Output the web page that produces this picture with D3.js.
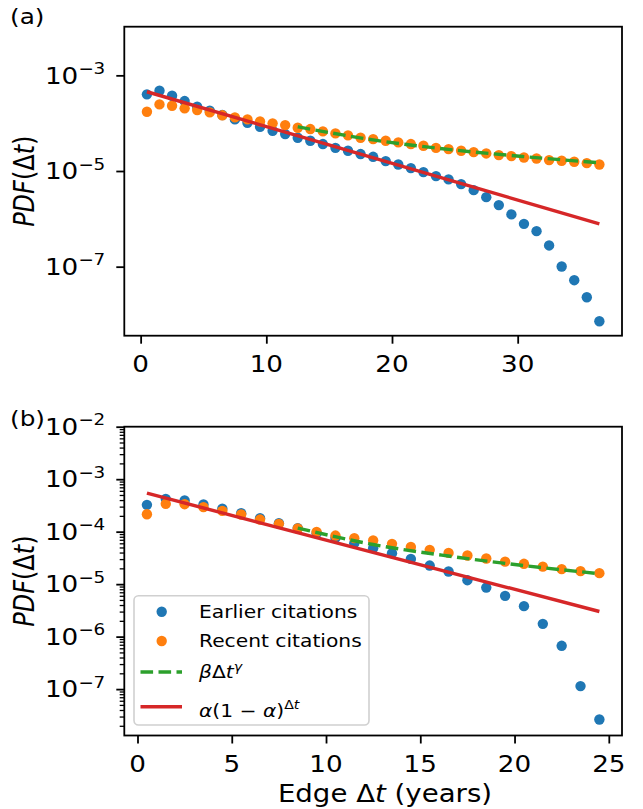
<!DOCTYPE html>
<html>
<head>
<meta charset="utf-8">
<script src="https://cdn.jsdelivr.net/npm/d3@7"></script>
<style>
  html, body { margin: 0; padding: 0; background: #fff; }
  svg { display: block; font-family: "DejaVu Sans", sans-serif; }
</style>
</head>
<body>
<svg id="chart" width="643" height="809"></svg>
<script>
// ---------------- DATA ----------------
// Panel (a)
const xA = [0.5,1.5,2.5,3.5,4.5,5.5,6.5,7.5,8.5,9.5,10.5,11.5,12.5,13.5,14.5,15.5,16.5,17.5,18.5,19.5,20.5,21.5,22.5,23.5,24.5,25.5,26.5,27.5,28.5,29.5,30.5,31.5,32.5,33.5,34.5,35.5,36.5];
const earlierA = [4.01e-4,4.76e-4,3.75e-4,2.90e-4,2.21e-4,1.82e-4,1.48e-4,1.20e-4,1.02e-4,8.41e-5,6.93e-5,5.92e-5,4.95e-5,4.29e-5,3.66e-5,3.05e-5,2.65e-5,2.26e-5,1.98e-5,1.61e-5,1.37e-5,1.15e-5,9.48e-6,7.82e-6,6.67e-6,5.32e-6,3.98e-6,2.84e-6,1.94e-6,1.24e-6,7.85e-7,5.53e-7,2.78e-7,1.01e-7,5.22e-8,2.30e-8,7.24e-9];
const recentA = [1.73e-4,2.47e-4,2.31e-4,2.04e-4,1.88e-4,1.68e-4,1.46e-4,1.32e-4,1.20e-4,1.09e-4,9.91e-5,9.12e-5,8.02e-5,7.53e-5,6.73e-5,6.12e-5,5.56e-5,4.95e-5,4.65e-5,4.29e-5,3.96e-5,3.66e-5,3.37e-5,3.05e-5,2.87e-5,2.65e-5,2.48e-5,2.33e-5,2.15e-5,2.05e-5,1.92e-5,1.83e-5,1.69e-5,1.64e-5,1.56e-5,1.46e-5,1.37e-5];
const powerFitXA = [12.5,18.5,24.5,30.5,36.5];
const powerFitYA = [8.41e-5,4.47e-5,2.83e-5,2.00e-5,1.49e-5];
const expFitXA = [0.5,36.5];
const expFitYA = [4.54e-4,7.85e-7];
const xTicksA = [0,10,20,30];
const yTickExpA = [-3,-5,-7];

// Panel (b)
const xB = [0.5,1.5,2.5,3.5,4.5,5.5,6.5,7.5,8.5,9.5,10.5,11.5,12.5,13.5,14.5,15.5,16.5,17.5,18.5,19.5,20.5,21.5,22.5,23.5,24.5];
const earlierB = [3.24e-4,4.22e-4,3.92e-4,3.29e-4,2.75e-4,2.25e-4,1.81e-4,1.45e-4,1.17e-4,9.33e-5,7.59e-5,6.04e-5,4.85e-5,3.89e-5,3.03e-5,2.26e-5,1.74e-5,1.19e-5,8.61e-6,5.98e-6,3.81e-6,1.75e-6,6.68e-7,1.14e-7,2.64e-8];
const recentB = [2.15e-4,3.39e-4,3.34e-4,2.93e-4,2.49e-4,2.12e-4,1.70e-4,1.41e-4,1.15e-4,9.91e-5,8.43e-5,7.52e-5,6.78e-5,5.86e-5,5.13e-5,4.50e-5,3.94e-5,3.51e-5,3.08e-5,2.69e-5,2.44e-5,2.16e-5,1.93e-5,1.77e-5,1.62e-5];
const powerFitXB = [8.5,12.5,16.5,20.5,24.5];
const powerFitYB = [1.17e-4,5.69e-5,3.43e-5,2.26e-5,1.58e-5];
const expFitXB = [0.5,24.5];
const expFitYB = [5.41e-4,3.01e-6];
const xTicksB = [0,5,10,15,20,25];
const yTickExpB = [-2,-3,-4,-5,-6,-7];

const legendLabels = ["Earlier citations", "Recent citations"];

// ---------------- STYLE ----------------
const C_BLUE = "#1f77b4", C_ORANGE = "#ff7f0e", C_GREEN = "#2ca02c", C_RED = "#d62728";
const SX = 1.15;           // horizontal text stretch of the reference
const TICK_FS = 22.8, LABEL_FS = 24, LEG_FS = 17.6, PANEL_FS = 21.5;

const svg = d3.select("#chart");

// text helper: parts = [{t, it, sup}]
function stext(parent, x, y, parts, opts) {
  opts = opts || {};
  const tr = `translate(${x},${y}) scale(${SX},1)` + (opts.rotate ? ` rotate(${opts.rotate})` : "");
  const g = parent.append("g").attr("transform", tr);
  const t = g.append("text")
    .attr("text-anchor", opts.anchor || "start")
    .style("font-size", opts.size + "px")
    .attr("fill", "#000");
  let cur = 0;
  const supShift = opts.supShift || -0.38 * opts.size;
  parts.forEach(p => {
    const target = p.sup ? supShift : 0;
    const ts = t.append("tspan").text(p.t).attr("dy", target - cur);
    cur = target;
    if (p.it) ts.style("font-style", "italic");
    if (p.sup) ts.style("font-size", (opts.size * 0.7) + "px");
  });
  return t;
}

function panel(cfg) {
  const { left, right, top, bottom } = cfg.box;
  const x = d3.scaleLinear().domain(cfg.xDomain).range([left, right]);
  const y = d3.scaleLog().domain(cfg.yDomain).range([bottom, top]);
  const g = svg.append("g");

  const clipId = "clip-" + cfg.id;
  svg.append("clipPath").attr("id", clipId).append("rect")
    .attr("x", left).attr("y", top).attr("width", right - left).attr("height", bottom - top);
  const plot = g.append("g").attr("clip-path", `url(#${clipId})`);

  plot.append("g").selectAll("circle").data(cfg.xs.map((v, i) => [v, cfg.earlier[i]]))
    .join("circle").attr("cx", d => x(d[0])).attr("cy", d => y(d[1])).attr("r", 5.2).attr("fill", C_BLUE);
  plot.append("g").selectAll("circle").data(cfg.xs.map((v, i) => [v, cfg.recent[i]]))
    .join("circle").attr("cx", d => x(d[0])).attr("cy", d => y(d[1])).attr("r", 5.2).attr("fill", C_ORANGE);

  plot.append("path")
    .datum(cfg.powX.map((v, i) => [v, cfg.powY[i]]))
    .attr("d", d3.line().x(d => x(d[0])).y(d => y(d[1])).curve(d3.curveMonotoneX))
    .attr("fill", "none").attr("stroke", C_GREEN).attr("stroke-width", 3.4)
    .attr("stroke-dasharray", "12.6,5.4");
  plot.append("path")
    .datum(cfg.expX.map((v, i) => [v, cfg.expY[i]]))
    .attr("d", d3.line().x(d => x(d[0])).y(d => y(d[1])))
    .attr("fill", "none").attr("stroke", C_RED).attr("stroke-width", 3.4);

  const xAxis = d3.axisBottom(x).tickValues(cfg.xTicks).tickFormat("").tickSize(8).tickSizeOuter(0);
  const gx = g.append("g").attr("transform", `translate(0,${bottom})`).call(xAxis);
  gx.select(".domain").remove();
  gx.selectAll("line").attr("stroke", "#000").attr("stroke-width", 1.8);

  const yMajors = cfg.yExp.map(e => Math.pow(10, e));
  if (cfg.minor) {
    const mins = [];
    const lo = Math.floor(Math.log10(cfg.yDomain[0])), hi = Math.ceil(Math.log10(cfg.yDomain[1]));
    for (let e = lo; e < hi; e++) for (let m = 2; m <= 9; m++) {
      const v = m * Math.pow(10, e);
      if (v >= cfg.yDomain[0] && v <= cfg.yDomain[1]) mins.push(v);
    }
    const gm = g.append("g").attr("transform", `translate(${left},0)`)
      .call(d3.axisLeft(y).tickValues(mins).tickFormat("").tickSize(4.6).tickSizeOuter(0));
    gm.select(".domain").remove();
    gm.selectAll("line").attr("stroke", "#000").attr("stroke-width", 1.3);
  }
  const gy = g.append("g").attr("transform", `translate(${left},0)`)
    .call(d3.axisLeft(y).tickValues(yMajors).tickFormat("").tickSize(8).tickSizeOuter(0));
  gy.select(".domain").remove();
  gy.selectAll("line").attr("stroke", "#000").attr("stroke-width", 1.8);

  g.append("rect").attr("x", left).attr("y", top).attr("width", right - left).attr("height", bottom - top)
    .attr("fill", "none").attr("stroke", "#000").attr("stroke-width", 1.8);

  cfg.xTicks.forEach(v => stext(g, x(v), bottom + 36.5, [{ t: String(v) }], { anchor: "middle", size: TICK_FS }));
  cfg.yExp.forEach(e => stext(g, left - 19, y(Math.pow(10, e)) + 8.2,
    [{ t: "10" }, { t: "\u2212" + Math.abs(e), sup: true }], { anchor: "end", size: TICK_FS, supShift: -9.5 }));

  stext(g, 33.5, (top + bottom) / 2,
    [{ t: "PDF", it: true }, { t: "(\u0394" }, { t: "t", it: true }, { t: ")" }],
    { anchor: "middle", size: LABEL_FS, rotate: -90 });

  stext(g, 10, cfg.panelY, [{ t: cfg.panelLabel }], { size: PANEL_FS });

  return { x, y, g };
}

panel({
  id: "a", box: { left: 124.3, right: 622, top: 26.7, bottom: 335.7 },
  xDomain: [-1.3, 38.3], yDomain: [Math.pow(10, -8.443), Math.pow(10, -1.983)],
  xs: xA, earlier: earlierA, recent: recentA,
  powX: powerFitXA, powY: powerFitYA, expX: expFitXA, expY: expFitYA,
  xTicks: xTicksA, yExp: yTickExpA, minor: false,
  panelLabel: "(a)", panelY: 24
});

panel({
  id: "b", box: { left: 124.3, right: 622, top: 426.7, bottom: 735.5 },
  xDomain: [-0.7, 25.7], yDomain: [Math.pow(10, -7.884), 1e-2],
  xs: xB, earlier: earlierB, recent: recentB,
  powX: powerFitXB, powY: powerFitYB, expX: expFitXB, expY: expFitYB,
  xTicks: xTicksB, yExp: yTickExpB, minor: true,
  panelLabel: "(b)", panelY: 425.5
});

stext(svg, 385, 802, [{ t: "Edge \u0394" }, { t: "t", it: true }, { t: " (years)" }], { anchor: "middle", size: LABEL_FS });

const lg = svg.append("g");
lg.append("rect").attr("x", 134).attr("y", 595.7).attr("width", 235).attr("height", 129.3)
  .attr("rx", 4.5).attr("fill", "#fff").attr("fill-opacity", 0.8)
  .attr("stroke", "#d0d0d0").attr("stroke-width", 1.6);
lg.append("circle").attr("cx", 161.7).attr("cy", 611.7).attr("r", 5.2).attr("fill", C_BLUE);
lg.append("circle").attr("cx", 161.7).attr("cy", 641).attr("r", 5.2).attr("fill", C_ORANGE);
lg.append("line").attr("x1", 140.5).attr("x2", 182).attr("y1", 672).attr("y2", 672)
  .attr("stroke", C_GREEN).attr("stroke-width", 3.4).attr("stroke-dasharray", "12.6,5.4");
lg.append("line").attr("x1", 140.5).attr("x2", 182).attr("y1", 706.7).attr("y2", 706.7)
  .attr("stroke", C_RED).attr("stroke-width", 3.4);
stext(lg, 199, 617.8, [{ t: legendLabels[0] }], { size: LEG_FS });
stext(lg, 199, 646.8, [{ t: legendLabels[1] }], { size: LEG_FS });
stext(lg, 199, 678, [{ t: "\u03B2", it: true }, { t: "\u0394" }, { t: "t", it: true }, { t: "\u03B3", it: true, sup: true }], { size: LEG_FS, supShift: -7 });
stext(lg, 199, 716.5, [{ t: "\u03B1", it: true }, { t: "(1 \u2212 " }, { t: "\u03B1", it: true }, { t: ")" }, { t: "\u0394", sup: true }, { t: "t", sup: true, it: true }], { size: LEG_FS, supShift: -8 });
</script>
</body>
</html>
